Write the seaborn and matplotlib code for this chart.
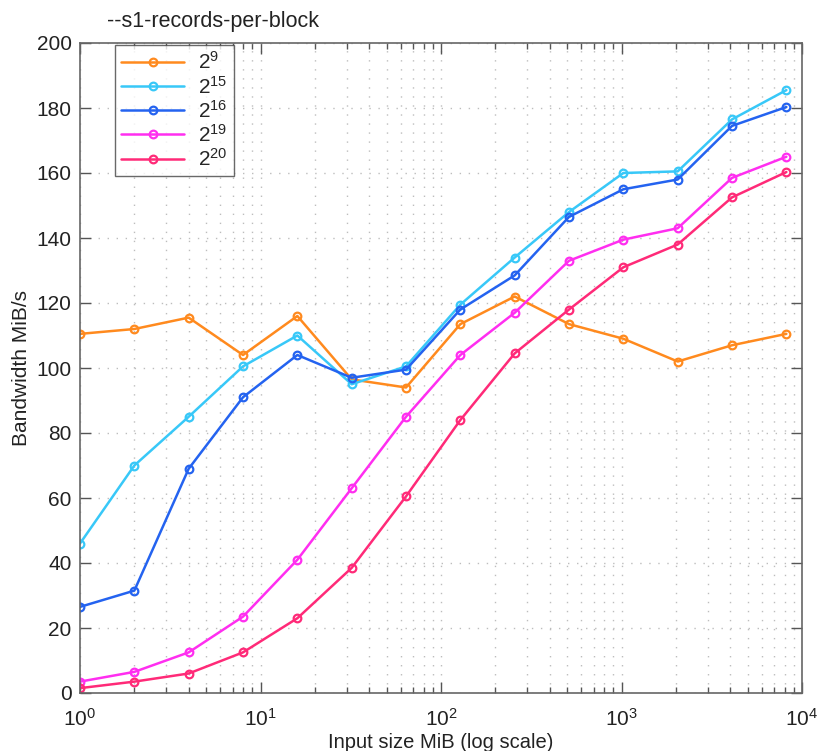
import numpy as np
import pandas as pd
import matplotlib
matplotlib.use("Agg")
import matplotlib.pyplot as plt
import seaborn as sns
from matplotlib.ticker import LogLocator, NullFormatter, MultipleLocator

sizes = [1, 2, 4, 8, 16, 32, 64, 128, 256, 512, 1024, 2048, 4096, 8192]
labels = ["$2^{9}$", "$2^{15}$", "$2^{16}$", "$2^{19}$", "$2^{20}$"]
bw_2_9 = [110.5, 112, 115.5, 104, 116, 96.5, 94, 113.5, 122, 113.5, 109, 102, 107, 110.5]
bw_2_15 = [46, 70, 85, 100.5, 110, 95, 100.5, 119.5, 134, 148, 160, 160.5, 176.5, 185.5]
bw_2_16 = [26.5, 31.5, 69, 91, 104, 97, 99.5, 118, 128.5, 146.5, 155, 158, 174.5, 180.3]
bw_2_19 = [3.5, 6.5, 12.5, 23.5, 41, 63, 85, 104, 117, 133, 139.5, 143, 158.5, 165]
bw_2_20 = [1.5, 3.5, 6, 12.5, 23, 38.5, 60.5, 84, 104.5, 118, 131, 138, 152.5, 160.3]
series = [bw_2_9, bw_2_15, bw_2_16, bw_2_19, bw_2_20]
colors = ["#FF8A1E", "#38C8F8", "#2463F0", "#FF2EF0", "#FF2A78"]

sns.set_theme(style="white")
plt.rcParams["font.family"] = ["Liberation Sans", "DejaVu Sans"]
plt.rcParams["mathtext.default"] = "regular"

rows = []
for lab, vals in zip(labels, series):
    for s, v in zip(sizes, vals):
        rows.append({"size": s, "bw": v, "series": lab})
df = pd.DataFrame(rows)

fig = plt.figure(figsize=(8.19, 7.51), dpi=100)
ax = fig.add_axes([80/819, 1-693/751, (802-80)/819, (693-43)/751])

sns.lineplot(data=df, x="size", y="bw", hue="series", hue_order=labels,
             palette=dict(zip(labels, colors)), marker="o", markersize=5.5,
             markerfacecolor="none", markeredgewidth=1.6, linewidth=1.8,
             legend=False, ax=ax)
for line, c in zip(ax.get_lines(), colors):
    line.set_markeredgecolor(c)

ax.set_xscale("log")
ax.set_xlim(1, 1e4)
ax.set_ylim(0, 200)
ax.yaxis.set_major_locator(MultipleLocator(20))
ax.xaxis.set_major_locator(LogLocator(base=10, numticks=10))
ax.xaxis.set_minor_locator(LogLocator(base=10, subs=np.arange(2, 10), numticks=10))
ax.xaxis.set_minor_formatter(NullFormatter())

gstyle = dict(color="#bdbdbd", linestyle=(0, (1, 5.5)), linewidth=1.0)
ax.grid(True, which="major", axis="both", **gstyle)
ax.grid(True, which="minor", axis="x", **gstyle)

ax.tick_params(which="both", direction="in", top=True, right=True, bottom=True, left=True,
               colors="#555555", labelcolor="#222222", labelsize=15)
ax.tick_params(which="major", length=8, width=1)
ax.tick_params(which="minor", length=4.5, width=1)
ax.tick_params(axis="x", which="both", pad=11)
ax.tick_params(axis="y", which="both", pad=6)
for sp in ax.spines.values():
    sp.set_color("#666666")
    sp.set_linewidth(1.2)

ax.set_xlabel("Input size MiB (log scale)", fontsize=14.5, color="#222222", labelpad=2)
ax.set_ylabel("Bandwidth MiB/s", fontsize=15, color="#222222", labelpad=4)

fig.text(213/819, 1-21/751, "--s1-records-per-block", ha="center", va="center",
         fontsize=15.5, color="#222222")

handles = ax.get_lines()[:5]
leg = ax.legend(handles, labels, loc="upper left", bbox_to_anchor=(35/722, 1 - 2/650),
                borderaxespad=0, frameon=True, fancybox=False, fontsize=15,
                handlelength=3.0, borderpad=0.3, labelspacing=0.11, handletextpad=0.7)
leg.get_frame().set_edgecolor("#444444")
leg.get_frame().set_linewidth(1.0)

fig.savefig("out.png", dpi=100)
